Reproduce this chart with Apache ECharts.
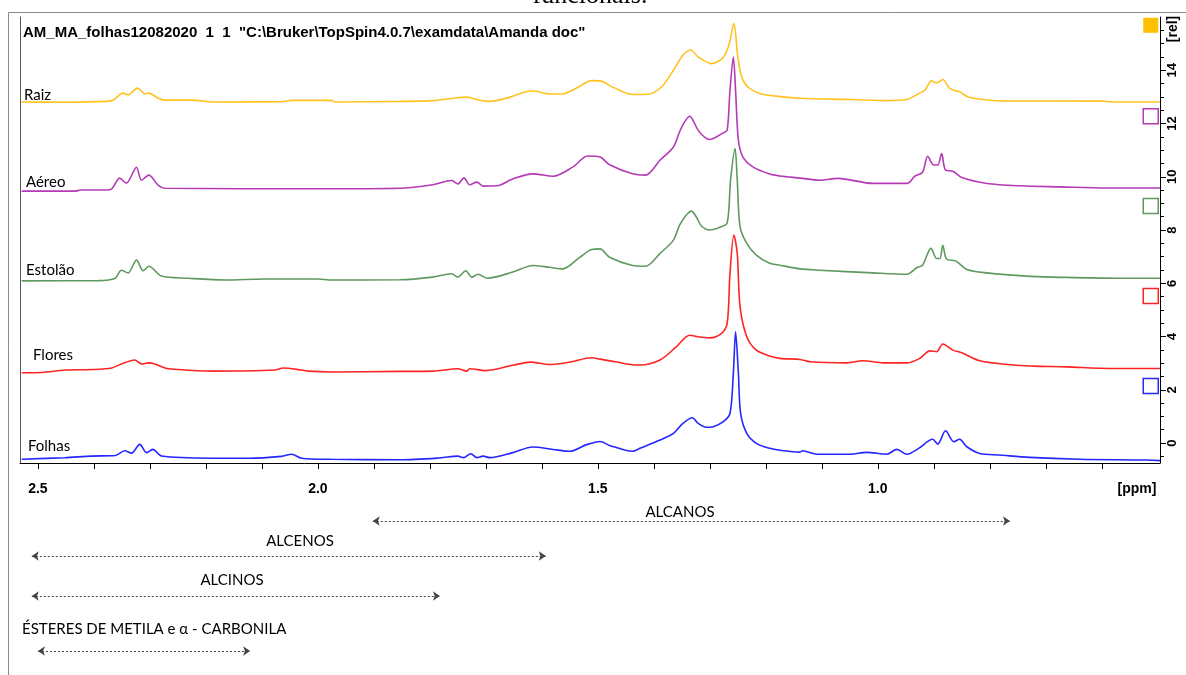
<!DOCTYPE html>
<html>
<head>
<meta charset="utf-8">
<title>RMN 1H - extratos</title>
<script src="https://cdn.jsdelivr.net/npm/echarts@6/dist/echarts.min.js"></script>
<style>
  html, body { margin: 0; padding: 0; background: #fff; }
  #myChart { width: 1186px; height: 675px; }
</style>
</head>
<body>
<div id="myChart"></div>
<script>
// espectros [ppm, rel]
const raiz = [
  [2.529, 12.81], [2.45, 12.80], [2.40, 12.82], [2.368, 12.86], [2.348, 13.14], [2.339, 13.08],
  [2.322, 13.33], [2.309, 13.12], [2.302, 13.14], [2.285, 12.95], [2.273, 12.88], [2.226, 12.88],
  [2.184, 12.81], [2.065, 12.82], [2.047, 12.87], [1.976, 12.87], [1.970, 12.81], [1.854, 12.83],
  [1.795, 12.86], [1.759, 12.95], [1.734, 12.99], [1.716, 12.90], [1.693, 12.83], [1.657, 12.99],
  [1.627, 13.20], [1.616, 13.22], [1.586, 13.11], [1.563, 13.11], [1.538, 13.33], [1.511, 13.61],
  [1.496, 13.60], [1.473, 13.36], [1.438, 13.09], [1.41, 13.10], [1.385, 13.40], [1.365, 14.00],
  [1.348, 14.56], [1.334, 14.76], [1.321, 14.50], [1.297, 14.25], [1.277, 14.46], [1.266, 14.94],
  [1.257, 15.75], [1.250, 14.50], [1.243, 13.75], [1.232, 13.37], [1.211, 13.13], [1.170, 13.00],
  [1.139, 12.95], [1.045, 12.90], [0.985, 12.86], [0.948, 12.90], [0.930, 13.09], [0.916, 13.25],
  [0.904, 13.60], [0.895, 13.52], [0.884, 13.65], [0.871, 13.31], [0.854, 13.19], [0.836, 12.98],
  [0.770, 12.85], [0.60, 12.84], [0.58, 12.81], [0.496, 12.81]
];
const aereo = [
  [2.529, 9.46], [2.434, 9.46], [2.424, 9.50], [2.380, 9.50], [2.368, 9.55], [2.354, 9.95],
  [2.342, 9.76], [2.324, 10.36], [2.315, 9.87], [2.302, 10.06], [2.285, 9.68], [2.273, 9.57],
  [2.0, 9.55], [1.854, 9.57], [1.795, 9.70], [1.761, 9.86], [1.750, 9.73], [1.739, 9.96],
  [1.729, 9.70], [1.716, 9.80], [1.705, 9.65], [1.68, 9.66], [1.652, 9.92], [1.616, 10.11],
  [1.580, 10.02], [1.545, 10.36], [1.518, 10.78], [1.496, 10.74], [1.479, 10.45], [1.438, 10.11],
  [1.415, 10.06], [1.389, 10.62], [1.365, 11.12], [1.354, 11.69], [1.345, 12.06], [1.336, 12.27],
  [1.330, 12.12], [1.321, 11.75], [1.309, 11.48], [1.300, 11.40], [1.288, 11.50], [1.276, 11.65],
  [1.269, 11.75], [1.264, 13.25], [1.258, 14.50], [1.254, 13.25], [1.249, 11.37], [1.241, 10.75],
  [1.223, 10.37], [1.193, 10.10], [1.175, 10.03], [1.139, 9.95], [1.104, 9.87], [1.071, 9.94],
  [1.009, 9.75], [0.948, 9.75], [0.934, 10.02], [0.920, 10.17], [0.911, 10.77], [0.900, 10.44],
  [0.893, 10.44], [0.886, 10.87], [0.879, 10.25], [0.866, 10.21], [0.850, 9.97], [0.805, 9.75],
  [0.746, 9.66], [0.675, 9.62], [0.591, 9.58], [0.496, 9.58]
];
const estolao = [
  [2.529, 6.09], [2.392, 6.10], [2.362, 6.19], [2.351, 6.49], [2.339, 6.39], [2.324, 6.87],
  [2.312, 6.47], [2.302, 6.64], [2.279, 6.27], [2.232, 6.19], [2.166, 6.12], [2.095, 6.16],
  [2.0, 6.16], [1.976, 6.12], [1.854, 6.13], [1.795, 6.23], [1.761, 6.36], [1.750, 6.23],
  [1.736, 6.47], [1.725, 6.23], [1.714, 6.34], [1.698, 6.19], [1.652, 6.42], [1.616, 6.67],
  [1.586, 6.60], [1.563, 6.54], [1.532, 6.98], [1.511, 7.27], [1.496, 7.29], [1.479, 6.98],
  [1.438, 6.67], [1.415, 6.64], [1.389, 7.12], [1.365, 7.62], [1.354, 8.18], [1.342, 8.56],
  [1.333, 8.71], [1.324, 8.49], [1.315, 8.15], [1.300, 8.00], [1.282, 8.10], [1.269, 8.27],
  [1.263, 9.87], [1.255, 11.06], [1.251, 9.87], [1.246, 8.12], [1.234, 7.50], [1.217, 7.06],
  [1.193, 6.75], [1.175, 6.68], [1.139, 6.54], [1.104, 6.49], [1.009, 6.39], [0.948, 6.34],
  [0.930, 6.59], [0.920, 6.68], [0.905, 7.31], [0.895, 6.93], [0.889, 6.93], [0.884, 7.43],
  [0.877, 6.90], [0.861, 6.84], [0.841, 6.52], [0.805, 6.39], [0.734, 6.27], [0.663, 6.22],
  [0.573, 6.19], [0.496, 6.19]
];
const flores = [
  [2.529, 2.64], [2.493, 2.65], [2.452, 2.74], [2.404, 2.76], [2.368, 2.82], [2.351, 2.97],
  [2.327, 3.12], [2.315, 2.97], [2.303, 3.01], [2.291, 2.97], [2.273, 2.82], [2.261, 2.78],
  [2.190, 2.70], [2.077, 2.74], [2.062, 2.82], [2.029, 2.74], [2.017, 2.70], [1.976, 2.67],
  [1.854, 2.69], [1.795, 2.70], [1.750, 2.79], [1.734, 2.70], [1.729, 2.79], [1.70, 2.72],
  [1.652, 2.92], [1.621, 3.04], [1.586, 2.95], [1.550, 3.04], [1.511, 3.20], [1.496, 3.15],
  [1.466, 3.04], [1.438, 2.94], [1.425, 2.93], [1.389, 3.12], [1.360, 3.61], [1.336, 4.05],
  [1.321, 3.99], [1.300, 3.95], [1.279, 4.12], [1.269, 4.49], [1.264, 6.37], [1.257, 7.81],
  [1.251, 7.12], [1.246, 5.12], [1.234, 3.99], [1.217, 3.49], [1.193, 3.27], [1.175, 3.18],
  [1.139, 3.14], [1.121, 3.05], [1.055, 3.01], [1.027, 3.09], [0.99, 3.01], [0.948, 3.01],
  [0.925, 3.18], [0.907, 3.46], [0.895, 3.43], [0.884, 3.72], [0.866, 3.49], [0.850, 3.39],
  [0.818, 3.09], [0.759, 2.93], [0.723, 2.89], [0.663, 2.86], [0.586, 2.80], [0.496, 2.80]
];
const folhas = [
  [2.529, -0.61], [2.452, -0.55], [2.404, -0.49], [2.362, -0.47], [2.345, -0.29], [2.333, -0.38],
  [2.318, -0.05], [2.306, -0.36], [2.295, -0.24], [2.279, -0.49], [2.190, -0.57], [2.124, -0.57],
  [2.065, -0.50], [2.047, -0.42], [2.029, -0.57], [1.976, -0.61], [1.854, -0.63], [1.782, -0.56],
  [1.750, -0.49], [1.740, -0.55], [1.727, -0.40], [1.716, -0.55], [1.705, -0.49], [1.693, -0.55],
  [1.652, -0.36], [1.616, -0.15], [1.580, -0.24], [1.550, -0.31], [1.520, -0.06], [1.496, 0.06],
  [1.479, -0.09], [1.438, -0.31], [1.425, -0.20], [1.389, 0.11], [1.365, 0.36], [1.348, 0.74],
  [1.331, 0.95], [1.321, 0.74], [1.306, 0.59], [1.294, 0.61], [1.276, 0.80], [1.264, 1.11],
  [1.258, 2.62], [1.254, 4.18], [1.249, 2.62], [1.245, 1.11], [1.234, 0.36], [1.217, -0.01],
  [1.193, -0.20], [1.175, -0.27], [1.139, -0.34], [1.134, -0.29], [1.109, -0.42], [1.050, -0.42],
  [1.020, -0.35], [0.984, -0.42], [0.966, -0.24], [0.948, -0.42], [0.927, -0.20], [0.902, 0.14],
  [0.893, -0.04], [0.879, 0.46], [0.864, 0.05], [0.854, 0.14], [0.841, -0.14], [0.818, -0.39],
  [0.782, -0.45], [0.729, -0.54], [0.639, -0.61], [0.520, -0.64], [0.496, -0.66]
];

const seriesNames = ['Raiz', 'Aéreo', 'Estolão', 'Flores', 'Folhas'];
const seriesData = [raiz, aereo, estolao, flores, folhas];
const seriesColors = ['#ffc21f', '#b53ab5', '#5f995f', '#ff2424', '#2626ff'];

// eixos
const xLabelVals = [2.5, 2.0, 1.5, 1.0];
const xTickVals = [2.5, 2.4, 2.3, 2.2, 2.1, 2.0, 1.9, 1.8, 1.7, 1.6, 1.5, 1.4, 1.3, 1.2, 1.1, 1.0, 0.9, 0.8, 0.7, 0.6];
const yLabelVals = [0, 2, 4, 6, 8, 10, 12, 14];
const yMinorVals = [-0.5, 0.5, 1, 1.5, 2.5, 3, 3.5, 4.5, 5, 5.5, 6.5, 7, 7.5, 8.5, 9, 9.5,
  10.5, 11, 11.5, 12.5, 13, 13.5, 14.5, 15, 15.5];

// faixas de deslocamento químico (ppm)
const annoNames = ['ALCANOS', 'ALCENOS', 'ALCINOS', 'ÉSTERES DE METILA e α - CARBONILA'];
const annoFrom = [1.902, 2.511, 2.511, 2.500];
const annoTo = [0.764, 1.593, 1.782, 2.121];

const title = 'AM_MA_folhas12082020  1  1  "C:\\Bruker\\TopSpin4.0.7\\examdata\\Amanda doc"';

let myChart = echarts.init(document.getElementById('myChart'));

const xMin = 0.496, xMax = 2.532;
const annoRows = [21, 56, 96, 151];
const annoLabelPos = [[680, 512], [300, 541], [232, 580], [22, 629]];
const namePos = [[24, 95], [26, 182], [26, 270], [33, 355], [28, 446]];
const markerLevels = [15.69, 12.27, 8.9, 5.52, 2.14];
const boldFont = 'bold 14px "Liberation Sans"';

const graphics = [
  { type: 'rect', shape: { x: 8.5, y: 12.5, width: 1200, height: 700 },
    style: { fill: 'none', stroke: '#8a8a8a', lineWidth: 1 }, silent: true },
  { type: 'text', x: 590, y: 9, style: { text: 'funcionais.', font: '26px "Liberation Serif"',
    fill: '#000', textAlign: 'center', textVerticalAlign: 'bottom' } },
  { type: 'text', x: 23, y: 33, style: { text: title, font: 'bold 15px "Liberation Sans"',
    fill: '#000', textVerticalAlign: 'middle' } },
  { type: 'text', x: 1137, y: 489, style: { text: '[ppm]', font: boldFont,
    fill: '#000', textAlign: 'center', textVerticalAlign: 'middle' } },
  { type: 'text', x: 1173, y: 29, rotation: Math.PI / 2, style: { text: '[rel]', font: boldFont,
    fill: '#000', textAlign: 'center', textVerticalAlign: 'middle' } }
];
seriesNames.forEach((n, i) => {
  graphics.push({ type: 'text', x: namePos[i][0], y: namePos[i][1],
    style: { text: n, font: '15px Lato', fill: '#000', textVerticalAlign: 'middle' } });
});
annoNames.forEach((n, i) => {
  graphics.push({ type: 'text', x: annoLabelPos[i][0], y: annoLabelPos[i][1],
    style: { text: n, font: '15px Lato', fill: '#000', textAlign: i === 3 ? 'left' : 'center',
      textVerticalAlign: 'middle' } });
});

const series = seriesNames.map((n, i) => ({
  name: n,
  type: 'line',
  xAxisIndex: 0,
  yAxisIndex: 0,
  data: seriesData[i],
  showSymbol: false,
  smooth: 0.3,
  lineStyle: { color: seriesColors[i], width: 1.6 },
  itemStyle: { color: seriesColors[i] },
  markPoint: {
    symbol: 'rect',
    symbolSize: [15, 15],
    silent: true,
    label: { show: false },
    itemStyle: i === 0
      ? { color: '#ffc000', borderWidth: 0 }
      : { color: 'rgba(0,0,0,0)', borderColor: seriesColors[i], borderWidth: 1.5 },
    data: [{ coord: [0.5125, markerLevels[i]] }]
  }
}));

series.push({
  type: 'lines',
  coordinateSystem: 'cartesian2d',
  xAxisIndex: 1,
  yAxisIndex: 3,
  polyline: false,
  symbol: ['arrow', 'arrow'],
  symbolSize: 7,
  lineStyle: { color: '#444', width: 1, type: [2, 2], opacity: 1 },
  itemStyle: { color: '#000' },
  data: annoNames.map((n, i) => ({ coords: [[annoFrom[i], annoRows[i]], [annoTo[i], annoRows[i]]] }))
});

myChart.setOption({
  animation: false,
  backgroundColor: '#fff',
  textStyle: { fontFamily: 'Liberation Sans' },
  grid: [
    { left: 20, right: 26, top: 17, height: 446 },
    { left: 20, right: 26, top: 500, height: 160 }
  ],
  xAxis: [
    {
      gridIndex: 0, type: 'value', min: xMin, max: xMax, inverse: true,
      axisLine: { onZero: false, lineStyle: { color: '#000', width: 1 } },
      axisTick: { customValues: xTickVals, length: 6, lineStyle: { color: '#000' } },
      axisLabel: { customValues: xLabelVals, formatter: v => v.toFixed(1), margin: 19,
        fontWeight: 'bold', fontSize: 14, color: '#000' },
      splitLine: { show: false }
    },
    { gridIndex: 1, type: 'value', min: xMin, max: xMax, inverse: true, show: false }
  ],
  yAxis: [
    {
      gridIndex: 0, type: 'value', position: 'right', min: -0.75, max: 16,
      axisLine: { show: true, onZero: false, lineStyle: { color: '#000' } },
      axisTick: { show: true, customValues: yLabelVals, length: 6, lineStyle: { color: '#000' } },
      axisLabel: { customValues: yLabelVals, rotate: 90, margin: 6,
        fontWeight: 'bold', fontSize: 13, color: '#000' },
      splitLine: { show: false }
    },
    {
      gridIndex: 0, type: 'value', position: 'right', min: -0.75, max: 16,
      axisLine: { show: false, onZero: false },
      axisTick: { show: true, customValues: yMinorVals, length: 4, lineStyle: { color: '#000' } },
      axisLabel: { show: false },
      splitLine: { show: false }
    },
    {
      gridIndex: 0, type: 'value', position: 'left', min: -0.75, max: 16,
      axisLine: { show: true, onZero: false, lineStyle: { color: '#555' } },
      axisTick: { show: false }, axisLabel: { show: false }, splitLine: { show: false }
    },
    { gridIndex: 1, type: 'value', min: 0, max: 160, inverse: true, show: false }
  ],
  graphic: graphics,
  series: series
});
</script>
</body>
</html>
